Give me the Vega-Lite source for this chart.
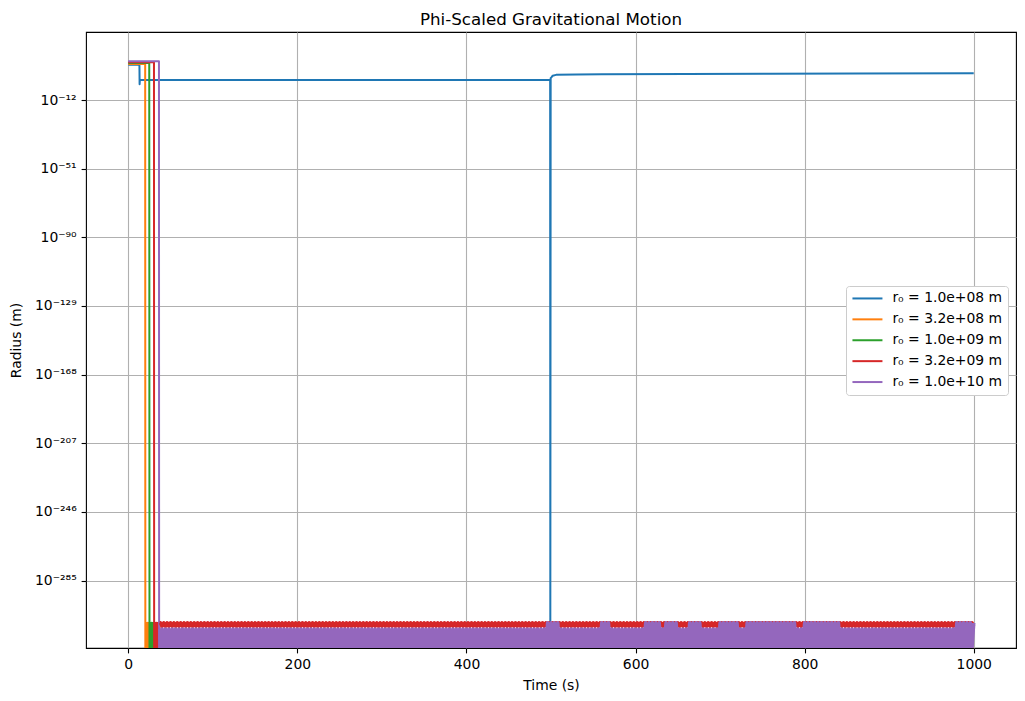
{
"$schema": "https://vega.github.io/schema/vega-lite/v6.json",
"width": 930, "height": 616,
"autosize": {"type": "none"},
"padding": {"left": 86, "top": 32, "right": 9, "bottom": 53},
"background": "white",
"title": {"text": "Phi-Scaled Gravitational Motion", "fontSize": 16.7, "fontWeight": "normal", "font": "DejaVu Sans", "color": "black", "anchor": "middle", "baseline": "alphabetic", "offset": 8.5, "dy": 18.5},
"data": {"values": [
{"t":0,"a":1e8,"b":3.2e8,"c":1e9,"d":3.2e9,"e":1e10},
{"t":13.2,"a":1e8},{"t":13.4,"a":1e-3},{"t":13.7,"a":0.25},
{"t":20,"b":3.2e8},{"t":20.2,"b":5e-324},{"t":21,"b":1e-309},{"t":22,"b":5e-324},{"t":23,"b":1e-309},{"t":24,"b":5e-324},{"t":25,"b":1e-309},{"t":26,"b":5e-324},{"t":1000,"b":5e-324},
{"t":24.8,"c":1e9},{"t":25.1,"c":5e-324},{"t":25.5,"c":1e-309},{"t":26.5,"c":5e-324},{"t":27.5,"c":1e-309},{"t":28.5,"c":5e-324},{"t":29.5,"c":1e-309},{"t":30.5,"c":5e-324},{"t":31.5,"c":1e-309},{"t":32.5,"c":5e-324},{"t":999,"c":5e-324},
{"t":30.4,"d":3.2e9},{"t":30.6,"d":5e-324},{"t":31.4,"d":1e-309},{"t":32.4,"d":5e-324},{"t":33.4,"d":1e-309},{"t":34.4,"d":5e-324},{"t":35.4,"d":1e-309},{"t":36.4,"d":5e-324},{"t":37.2,"d":1e-309},
{"t":36.3,"e":1e10},{"t":36.5,"e":5e-324},{"t":37.2,"e":3e-313},
{"t":499,"a":0.25},{"t":499.2,"a":1e-308},{"t":499.6,"a":3},{"t":500.4,"a":8},{"t":502,"a":63},{"t":506,"a":200},{"t":530,"a":280},{"t":560,"a":400},{"t":660,"a":600},{"t":760,"a":900},{"t":860,"a":1200},{"t":1000,"a":1450},
{"t":38,"d":1e-309,"e":5e-324},{"t":40,"d":1e-311,"e":3e-313},{"t":42,"d":1e-309,"e":5e-324},{"t":44,"d":1e-311,"e":3e-313},{"t":46,"d":1e-309,"e":5e-324},{"t":48,"d":1e-311,"e":3e-313},{"t":50,"d":1e-309,"e":5e-324},{"t":52,"d":1e-311,"e":3e-313},{"t":54,"d":1e-309,"e":5e-324},{"t":56,"d":1e-311,"e":3e-313},
{"t":58,"d":1e-309,"e":5e-324},{"t":60,"d":1e-311,"e":3e-313},{"t":62,"d":1e-309,"e":5e-324},{"t":64,"d":1e-311,"e":3e-313},{"t":66,"d":1e-309,"e":5e-324},{"t":68,"d":1e-311,"e":3e-313},{"t":70,"d":1e-309,"e":5e-324},{"t":72,"d":1e-311,"e":3e-313},{"t":74,"d":1e-309,"e":5e-324},{"t":76,"d":1e-311,"e":3e-313},
{"t":78,"d":1e-309,"e":5e-324},{"t":80,"d":1e-311,"e":3e-313},{"t":82,"d":1e-309,"e":5e-324},{"t":84,"d":1e-311,"e":3e-313},{"t":86,"d":1e-309,"e":5e-324},{"t":88,"d":1e-311,"e":3e-313},{"t":90,"d":1e-309,"e":5e-324},{"t":92,"d":1e-311,"e":3e-313},{"t":94,"d":1e-309,"e":5e-324},{"t":96,"d":1e-311,"e":3e-313},
{"t":98,"d":1e-309,"e":5e-324},{"t":100,"d":1e-311,"e":3e-313},{"t":102,"d":1e-309,"e":5e-324},{"t":104,"d":1e-311,"e":3e-313},{"t":106,"d":1e-309,"e":5e-324},{"t":108,"d":1e-311,"e":3e-313},{"t":110,"d":1e-309,"e":5e-324},{"t":112,"d":1e-311,"e":3e-313},{"t":114,"d":1e-309,"e":5e-324},{"t":116,"d":1e-311,"e":3e-313},
{"t":118,"d":1e-309,"e":5e-324},{"t":120,"d":1e-311,"e":3e-313},{"t":122,"d":1e-309,"e":5e-324},{"t":124,"d":1e-311,"e":3e-313},{"t":126,"d":1e-309,"e":5e-324},{"t":128,"d":1e-311,"e":3e-313},{"t":130,"d":1e-309,"e":5e-324},{"t":132,"d":1e-311,"e":3e-313},{"t":134,"d":1e-309,"e":5e-324},{"t":136,"d":1e-311,"e":3e-313},
{"t":138,"d":1e-309,"e":5e-324},{"t":140,"d":1e-311,"e":3e-313},{"t":142,"d":1e-309,"e":5e-324},{"t":144,"d":1e-311,"e":3e-313},{"t":146,"d":1e-309,"e":5e-324},{"t":148,"d":1e-311,"e":3e-313},{"t":150,"d":1e-309,"e":5e-324},{"t":152,"d":1e-311,"e":3e-313},{"t":154,"d":1e-309,"e":5e-324},{"t":156,"d":1e-311,"e":3e-313},
{"t":158,"d":1e-309,"e":5e-324},{"t":160,"d":1e-311,"e":3e-313},{"t":162,"d":1e-309,"e":5e-324},{"t":164,"d":1e-311,"e":3e-313},{"t":166,"d":1e-309,"e":5e-324},{"t":168,"d":1e-311,"e":3e-313},{"t":170,"d":1e-309,"e":5e-324},{"t":172,"d":1e-311,"e":3e-313},{"t":174,"d":1e-309,"e":5e-324},{"t":176,"d":1e-311,"e":3e-313},
{"t":178,"d":1e-309,"e":5e-324},{"t":180,"d":1e-311,"e":3e-313},{"t":182,"d":1e-309,"e":5e-324},{"t":184,"d":1e-311,"e":3e-313},{"t":186,"d":1e-309,"e":5e-324},{"t":188,"d":1e-311,"e":3e-313},{"t":190,"d":1e-309,"e":5e-324},{"t":192,"d":1e-311,"e":3e-313},{"t":194,"d":1e-309,"e":5e-324},{"t":196,"d":1e-311,"e":3e-313},
{"t":198,"d":1e-309,"e":5e-324},{"t":200,"d":1e-311,"e":3e-313},{"t":202,"d":1e-309,"e":5e-324},{"t":204,"d":1e-311,"e":3e-313},{"t":206,"d":1e-309,"e":5e-324},{"t":208,"d":1e-311,"e":3e-313},{"t":210,"d":1e-309,"e":5e-324},{"t":212,"d":1e-311,"e":3e-313},{"t":214,"d":1e-309,"e":5e-324},{"t":216,"d":1e-311,"e":3e-313},
{"t":218,"d":1e-309,"e":5e-324},{"t":220,"d":1e-311,"e":3e-313},{"t":222,"d":1e-309,"e":5e-324},{"t":224,"d":1e-311,"e":3e-313},{"t":226,"d":1e-309,"e":5e-324},{"t":228,"d":1e-311,"e":3e-313},{"t":230,"d":1e-309,"e":5e-324},{"t":232,"d":1e-311,"e":3e-313},{"t":234,"d":1e-309,"e":5e-324},{"t":236,"d":1e-311,"e":3e-313},
{"t":238,"d":1e-309,"e":5e-324},{"t":240,"d":1e-311,"e":3e-313},{"t":242,"d":1e-309,"e":5e-324},{"t":244,"d":1e-311,"e":3e-313},{"t":246,"d":1e-309,"e":5e-324},{"t":248,"d":1e-311,"e":3e-313},{"t":250,"d":1e-309,"e":5e-324},{"t":252,"d":1e-311,"e":3e-313},{"t":254,"d":1e-309,"e":5e-324},{"t":256,"d":1e-311,"e":3e-313},
{"t":258,"d":1e-309,"e":5e-324},{"t":260,"d":1e-311,"e":3e-313},{"t":262,"d":1e-309,"e":5e-324},{"t":264,"d":1e-311,"e":3e-313},{"t":266,"d":1e-309,"e":5e-324},{"t":268,"d":1e-311,"e":3e-313},{"t":270,"d":1e-309,"e":5e-324},{"t":272,"d":1e-311,"e":3e-313},{"t":274,"d":1e-309,"e":5e-324},{"t":276,"d":1e-311,"e":3e-313},
{"t":278,"d":1e-309,"e":5e-324},{"t":280,"d":1e-311,"e":3e-313},{"t":282,"d":1e-309,"e":5e-324},{"t":284,"d":1e-311,"e":3e-313},{"t":286,"d":1e-309,"e":5e-324},{"t":288,"d":1e-311,"e":3e-313},{"t":290,"d":1e-309,"e":5e-324},{"t":292,"d":1e-311,"e":3e-313},{"t":294,"d":1e-309,"e":5e-324},{"t":296,"d":1e-311,"e":3e-313},
{"t":298,"d":1e-309,"e":5e-324},{"t":300,"d":1e-311,"e":3e-313},{"t":302,"d":1e-309,"e":5e-324},{"t":304,"d":1e-311,"e":3e-313},{"t":306,"d":1e-309,"e":5e-324},{"t":308,"d":1e-311,"e":3e-313},{"t":310,"d":1e-309,"e":5e-324},{"t":312,"d":1e-311,"e":3e-313},{"t":314,"d":1e-309,"e":5e-324},{"t":316,"d":1e-311,"e":3e-313},
{"t":318,"d":1e-309,"e":5e-324},{"t":320,"d":1e-311,"e":3e-313},{"t":322,"d":1e-309,"e":5e-324},{"t":324,"d":1e-311,"e":3e-313},{"t":326,"d":1e-309,"e":5e-324},{"t":328,"d":1e-311,"e":3e-313},{"t":330,"d":1e-309,"e":5e-324},{"t":332,"d":1e-311,"e":3e-313},{"t":334,"d":1e-309,"e":5e-324},{"t":336,"d":1e-311,"e":3e-313},
{"t":338,"d":1e-309,"e":5e-324},{"t":340,"d":1e-311,"e":3e-313},{"t":342,"d":1e-309,"e":5e-324},{"t":344,"d":1e-311,"e":3e-313},{"t":346,"d":1e-309,"e":5e-324},{"t":348,"d":1e-311,"e":3e-313},{"t":350,"d":1e-309,"e":5e-324},{"t":352,"d":1e-311,"e":3e-313},{"t":354,"d":1e-309,"e":5e-324},{"t":356,"d":1e-311,"e":3e-313},
{"t":358,"d":1e-309,"e":5e-324},{"t":360,"d":1e-311,"e":3e-313},{"t":362,"d":1e-309,"e":5e-324},{"t":364,"d":1e-311,"e":3e-313},{"t":366,"d":1e-309,"e":5e-324},{"t":368,"d":1e-311,"e":3e-313},{"t":370,"d":1e-309,"e":5e-324},{"t":372,"d":1e-311,"e":3e-313},{"t":374,"d":1e-309,"e":5e-324},{"t":376,"d":1e-311,"e":3e-313},
{"t":378,"d":1e-309,"e":5e-324},{"t":380,"d":1e-311,"e":3e-313},{"t":382,"d":1e-309,"e":5e-324},{"t":384,"d":1e-311,"e":3e-313},{"t":386,"d":1e-309,"e":5e-324},{"t":388,"d":1e-311,"e":3e-313},{"t":390,"d":1e-309,"e":5e-324},{"t":392,"d":1e-311,"e":3e-313},{"t":394,"d":1e-309,"e":5e-324},{"t":396,"d":1e-311,"e":3e-313},
{"t":398,"d":1e-309,"e":5e-324},{"t":400,"d":1e-311,"e":3e-313},{"t":402,"d":1e-309,"e":5e-324},{"t":404,"d":1e-311,"e":3e-313},{"t":406,"d":1e-309,"e":5e-324},{"t":408,"d":1e-311,"e":3e-313},{"t":410,"d":1e-309,"e":5e-324},{"t":412,"d":1e-311,"e":3e-313},{"t":414,"d":1e-309,"e":5e-324},{"t":416,"d":1e-311,"e":3e-313},
{"t":418,"d":1e-309,"e":5e-324},{"t":420,"d":1e-311,"e":3e-313},{"t":422,"d":1e-309,"e":5e-324},{"t":424,"d":1e-311,"e":3e-313},{"t":426,"d":1e-309,"e":5e-324},{"t":428,"d":1e-311,"e":3e-313},{"t":430,"d":1e-309,"e":5e-324},{"t":432,"d":1e-311,"e":3e-313},{"t":434,"d":1e-309,"e":5e-324},{"t":436,"d":1e-311,"e":3e-313},
{"t":438,"d":1e-309,"e":5e-324},{"t":440,"d":1e-311,"e":3e-313},{"t":442,"d":1e-309,"e":5e-324},{"t":444,"d":1e-311,"e":3e-313},{"t":446,"d":1e-309,"e":5e-324},{"t":448,"d":1e-311,"e":3e-313},{"t":450,"d":1e-309,"e":5e-324},{"t":452,"d":1e-311,"e":3e-313},{"t":454,"d":1e-309,"e":5e-324},{"t":456,"d":1e-311,"e":3e-313},
{"t":458,"d":1e-309,"e":5e-324},{"t":460,"d":1e-311,"e":3e-313},{"t":462,"d":1e-309,"e":5e-324},{"t":464,"d":1e-311,"e":3e-313},{"t":466,"d":1e-309,"e":5e-324},{"t":468,"d":1e-311,"e":3e-313},{"t":470,"d":1e-309,"e":5e-324},{"t":472,"d":1e-311,"e":3e-313},{"t":474,"d":1e-309,"e":5e-324},{"t":476,"d":1e-311,"e":3e-313},
{"t":478,"d":1e-309,"e":5e-324},{"t":480,"d":1e-311,"e":3e-313},{"t":482,"d":1e-309,"e":5e-324},{"t":484,"d":1e-311,"e":3e-313},{"t":486,"d":1e-309,"e":5e-324},{"t":488,"d":1e-311,"e":3e-313},{"t":490,"d":1e-309,"e":5e-324},{"t":492,"d":1e-311,"e":3e-313},{"t":494,"d":1e-309,"e":5e-324},{"t":496,"d":1e-311,"e":1e-309},
{"t":498,"d":1e-309,"e":5e-324},{"t":500,"d":1e-311,"e":1e-309},{"t":502,"d":1e-309,"e":5e-324},{"t":504,"d":1e-311,"e":1e-309},{"t":506,"d":1e-309,"e":5e-324},{"t":508,"d":1e-311,"e":1e-309},{"t":510,"d":1e-309,"e":5e-324},{"t":512,"d":1e-311,"e":3e-313},{"t":514,"d":1e-309,"e":5e-324},{"t":516,"d":1e-311,"e":3e-313},
{"t":518,"d":1e-309,"e":5e-324},{"t":520,"d":1e-311,"e":3e-313},{"t":522,"d":1e-309,"e":5e-324},{"t":524,"d":1e-311,"e":3e-313},{"t":526,"d":1e-309,"e":5e-324},{"t":528,"d":1e-311,"e":3e-313},{"t":530,"d":1e-309,"e":5e-324},{"t":532,"d":1e-311,"e":3e-313},{"t":534,"d":1e-309,"e":5e-324},{"t":536,"d":1e-311,"e":3e-313},
{"t":538,"d":1e-309,"e":5e-324},{"t":540,"d":1e-311,"e":3e-313},{"t":542,"d":1e-309,"e":5e-324},{"t":544,"d":1e-311,"e":3e-313},{"t":546,"d":1e-309,"e":5e-324},{"t":548,"d":1e-311,"e":3e-313},{"t":550,"d":1e-309,"e":5e-324},{"t":552,"d":1e-311,"e":3e-313},{"t":554,"d":1e-309,"e":5e-324},{"t":556,"d":1e-311,"e":3e-313},
{"t":558,"d":1e-309,"e":5e-324},{"t":560,"d":1e-311,"e":1e-309},{"t":562,"d":1e-309,"e":5e-324},{"t":564,"d":1e-311,"e":1e-309},{"t":566,"d":1e-309,"e":5e-324},{"t":568,"d":1e-311,"e":1e-309},{"t":570,"d":1e-309,"e":5e-324},{"t":572,"d":1e-311,"e":3e-313},{"t":574,"d":1e-309,"e":5e-324},{"t":576,"d":1e-311,"e":3e-313},
{"t":578,"d":1e-309,"e":5e-324},{"t":580,"d":1e-311,"e":3e-313},{"t":582,"d":1e-309,"e":5e-324},{"t":584,"d":1e-311,"e":3e-313},{"t":586,"d":1e-309,"e":5e-324},{"t":588,"d":1e-311,"e":3e-313},{"t":590,"d":1e-309,"e":5e-324},{"t":592,"d":1e-311,"e":3e-313},{"t":594,"d":1e-309,"e":5e-324},{"t":596,"d":1e-311,"e":3e-313},
{"t":598,"d":1e-309,"e":5e-324},{"t":600,"d":1e-311,"e":3e-313},{"t":602,"d":1e-309,"e":5e-324},{"t":604,"d":1e-311,"e":3e-313},{"t":606,"d":1e-309,"e":5e-324},{"t":608,"d":1e-311,"e":3e-313},{"t":610,"d":1e-309,"e":5e-324},{"t":612,"d":1e-311,"e":1e-309},{"t":614,"d":1e-309,"e":5e-324},{"t":616,"d":1e-311,"e":1e-309},
{"t":618,"d":1e-309,"e":5e-324},{"t":620,"d":1e-311,"e":1e-309},{"t":622,"d":1e-309,"e":5e-324},{"t":624,"d":1e-311,"e":1e-309},{"t":626,"d":1e-309,"e":5e-324},{"t":628,"d":1e-311,"e":1e-309},{"t":630,"d":1e-309,"e":5e-324},{"t":632,"d":1e-311,"e":3e-313},{"t":634,"d":1e-309,"e":5e-324},{"t":636,"d":1e-311,"e":1e-309},
{"t":638,"d":1e-309,"e":5e-324},{"t":640,"d":1e-311,"e":1e-309},{"t":642,"d":1e-309,"e":5e-324},{"t":644,"d":1e-311,"e":1e-309},{"t":646,"d":1e-309,"e":5e-324},{"t":648,"d":1e-311,"e":1e-309},{"t":650,"d":1e-309,"e":5e-324},{"t":652,"d":1e-311,"e":3e-313},{"t":654,"d":1e-309,"e":5e-324},{"t":656,"d":1e-311,"e":3e-313},
{"t":658,"d":1e-309,"e":5e-324},{"t":660,"d":1e-311,"e":3e-313},{"t":662,"d":1e-309,"e":5e-324},{"t":664,"d":1e-311,"e":1e-309},{"t":666,"d":1e-309,"e":5e-324},{"t":668,"d":1e-311,"e":1e-309},{"t":670,"d":1e-309,"e":5e-324},{"t":672,"d":1e-311,"e":1e-309},{"t":674,"d":1e-309,"e":5e-324},{"t":676,"d":1e-311,"e":1e-309},
{"t":678,"d":1e-309,"e":5e-324},{"t":680,"d":1e-311,"e":3e-313},{"t":682,"d":1e-309,"e":5e-324},{"t":684,"d":1e-311,"e":3e-313},{"t":686,"d":1e-309,"e":5e-324},{"t":688,"d":1e-311,"e":3e-313},{"t":690,"d":1e-309,"e":5e-324},{"t":692,"d":1e-311,"e":3e-313},{"t":694,"d":1e-309,"e":5e-324},{"t":696,"d":1e-311,"e":3e-313},
{"t":698,"d":1e-309,"e":5e-324},{"t":700,"d":1e-311,"e":1e-309},{"t":702,"d":1e-309,"e":5e-324},{"t":704,"d":1e-311,"e":1e-309},{"t":706,"d":1e-309,"e":5e-324},{"t":708,"d":1e-311,"e":1e-309},{"t":710,"d":1e-309,"e":5e-324},{"t":712,"d":1e-311,"e":1e-309},{"t":714,"d":1e-309,"e":5e-324},{"t":716,"d":1e-311,"e":1e-309},
{"t":718,"d":1e-309,"e":5e-324},{"t":720,"d":1e-311,"e":1e-309},{"t":722,"d":1e-309,"e":5e-324},{"t":724,"d":1e-311,"e":3e-313},{"t":726,"d":1e-309,"e":5e-324},{"t":728,"d":1e-311,"e":3e-313},{"t":730,"d":1e-309,"e":5e-324},{"t":732,"d":1e-311,"e":1e-309},{"t":734,"d":1e-309,"e":5e-324},{"t":736,"d":1e-311,"e":1e-309},
{"t":738,"d":1e-309,"e":5e-324},{"t":740,"d":1e-311,"e":1e-309},{"t":742,"d":1e-309,"e":5e-324},{"t":744,"d":1e-311,"e":1e-309},{"t":746,"d":1e-309,"e":5e-324},{"t":748,"d":1e-311,"e":1e-309},{"t":750,"d":1e-309,"e":5e-324},{"t":752,"d":1e-311,"e":1e-309},{"t":754,"d":1e-309,"e":5e-324},{"t":756,"d":1e-311,"e":1e-309},
{"t":758,"d":1e-309,"e":5e-324},{"t":760,"d":1e-311,"e":1e-309},{"t":762,"d":1e-309,"e":5e-324},{"t":764,"d":1e-311,"e":1e-309},{"t":766,"d":1e-309,"e":5e-324},{"t":768,"d":1e-311,"e":1e-309},{"t":770,"d":1e-309,"e":5e-324},{"t":772,"d":1e-311,"e":1e-309},{"t":774,"d":1e-309,"e":5e-324},{"t":776,"d":1e-311,"e":1e-309},
{"t":778,"d":1e-309,"e":5e-324},{"t":780,"d":1e-311,"e":1e-309},{"t":782,"d":1e-309,"e":5e-324},{"t":784,"d":1e-311,"e":1e-309},{"t":786,"d":1e-309,"e":5e-324},{"t":788,"d":1e-311,"e":1e-309},{"t":790,"d":1e-309,"e":5e-324},{"t":792,"d":1e-311,"e":3e-313},{"t":794,"d":1e-309,"e":5e-324},{"t":796,"d":1e-311,"e":3e-313},
{"t":798,"d":1e-309,"e":5e-324},{"t":800,"d":1e-311,"e":1e-309},{"t":802,"d":1e-309,"e":5e-324},{"t":804,"d":1e-311,"e":1e-309},{"t":806,"d":1e-309,"e":5e-324},{"t":808,"d":1e-311,"e":1e-309},{"t":810,"d":1e-309,"e":5e-324},{"t":812,"d":1e-311,"e":1e-309},{"t":814,"d":1e-309,"e":5e-324},{"t":816,"d":1e-311,"e":1e-309},
{"t":818,"d":1e-309,"e":5e-324},{"t":820,"d":1e-311,"e":1e-309},{"t":822,"d":1e-309,"e":5e-324},{"t":824,"d":1e-311,"e":1e-309},{"t":826,"d":1e-309,"e":5e-324},{"t":828,"d":1e-311,"e":1e-309},{"t":830,"d":1e-309,"e":5e-324},{"t":832,"d":1e-311,"e":1e-309},{"t":834,"d":1e-309,"e":5e-324},{"t":836,"d":1e-311,"e":1e-309},
{"t":838,"d":1e-309,"e":5e-324},{"t":840,"d":1e-311,"e":1e-309},{"t":842,"d":1e-309,"e":5e-324},{"t":844,"d":1e-311,"e":3e-313},{"t":846,"d":1e-309,"e":5e-324},{"t":848,"d":1e-311,"e":3e-313},{"t":850,"d":1e-309,"e":5e-324},{"t":852,"d":1e-311,"e":3e-313},{"t":854,"d":1e-309,"e":5e-324},{"t":856,"d":1e-311,"e":3e-313},
{"t":858,"d":1e-309,"e":5e-324},{"t":860,"d":1e-311,"e":3e-313},{"t":862,"d":1e-309,"e":5e-324},{"t":864,"d":1e-311,"e":3e-313},{"t":866,"d":1e-309,"e":5e-324},{"t":868,"d":1e-311,"e":3e-313},{"t":870,"d":1e-309,"e":5e-324},{"t":872,"d":1e-311,"e":3e-313},{"t":874,"d":1e-309,"e":5e-324},{"t":876,"d":1e-311,"e":3e-313},
{"t":878,"d":1e-309,"e":5e-324},{"t":880,"d":1e-311,"e":3e-313},{"t":882,"d":1e-309,"e":5e-324},{"t":884,"d":1e-311,"e":3e-313},{"t":886,"d":1e-309,"e":5e-324},{"t":888,"d":1e-311,"e":3e-313},{"t":890,"d":1e-309,"e":5e-324},{"t":892,"d":1e-311,"e":3e-313},{"t":894,"d":1e-309,"e":5e-324},{"t":896,"d":1e-311,"e":3e-313},
{"t":898,"d":1e-309,"e":5e-324},{"t":900,"d":1e-311,"e":3e-313},{"t":902,"d":1e-309,"e":5e-324},{"t":904,"d":1e-311,"e":3e-313},{"t":906,"d":1e-309,"e":5e-324},{"t":908,"d":1e-311,"e":3e-313},{"t":910,"d":1e-309,"e":5e-324},{"t":912,"d":1e-311,"e":3e-313},{"t":914,"d":1e-309,"e":5e-324},{"t":916,"d":1e-311,"e":3e-313},
{"t":918,"d":1e-309,"e":5e-324},{"t":920,"d":1e-311,"e":3e-313},{"t":922,"d":1e-309,"e":5e-324},{"t":924,"d":1e-311,"e":3e-313},{"t":926,"d":1e-309,"e":5e-324},{"t":928,"d":1e-311,"e":3e-313},{"t":930,"d":1e-309,"e":5e-324},{"t":932,"d":1e-311,"e":3e-313},{"t":934,"d":1e-309,"e":5e-324},{"t":936,"d":1e-311,"e":3e-313},
{"t":938,"d":1e-309,"e":5e-324},{"t":940,"d":1e-311,"e":3e-313},{"t":942,"d":1e-309,"e":5e-324},{"t":944,"d":1e-311,"e":3e-313},{"t":946,"d":1e-309,"e":5e-324},{"t":948,"d":1e-311,"e":3e-313},{"t":950,"d":1e-309,"e":5e-324},{"t":952,"d":1e-311,"e":3e-313},{"t":954,"d":1e-309,"e":5e-324},{"t":956,"d":1e-311,"e":3e-313},
{"t":958,"d":1e-309,"e":5e-324},{"t":960,"d":1e-311,"e":3e-313},{"t":962,"d":1e-309,"e":5e-324},{"t":964,"d":1e-311,"e":3e-313},{"t":966,"d":1e-309,"e":5e-324},{"t":968,"d":1e-311,"e":3e-313},{"t":970,"d":1e-309,"e":5e-324},{"t":972,"d":1e-311,"e":3e-313},{"t":974,"d":1e-309,"e":5e-324},{"t":976,"d":1e-311,"e":3e-313},
{"t":978,"d":1e-309,"e":5e-324},{"t":980,"d":1e-311,"e":1e-309},{"t":982,"d":1e-309,"e":5e-324},{"t":984,"d":1e-311,"e":1e-309},{"t":986,"d":1e-309,"e":5e-324},{"t":988,"d":1e-311,"e":1e-309},{"t":990,"d":1e-309,"e":5e-324},{"t":992,"d":1e-311,"e":1e-309},{"t":994,"d":1e-309,"e":5e-324},{"t":996,"d":1e-311,"e":1e-309},
{"t":998,"d":1e-309,"e":5e-324},{"t":1000,"d":1e-311,"e":1e-309}
]},
"transform": [
  {"fold": ["a", "b", "c", "d", "e"], "as": ["s", "r"]},
  {"filter": "isValid(datum.r)"}
],
"encoding": {
  "x": {"field": "t", "type": "quantitative",
        "scale": {"domain": [-50, 1050], "nice": false, "zero": false},
        "axis": {"values": [0, 200, 400, 600, 800, 1000], "format": "d", "title": "Time (s)", "grid": true, "titleX": 465, "titleY": 30, "titleBaseline": "top", "titleAnchor": "middle"}},
  "y": {"field": "r", "type": "quantitative",
        "scale": {"type": "log", "domain": [5e-324, 4.5e26], "nice": false},
        "axis": {"values": [1e-12, 1e-51, 1e-90, 1e-129, 1e-168, 1e-207, 1e-246, 1e-285], "title": "Radius (m)", "grid": true,
                 "labelExpr": "datum.value > 1e-20 ? '10⁻¹²' : datum.value > 1e-60 ? '10⁻⁵¹' : datum.value > 1e-100 ? '10⁻⁹⁰' : datum.value > 1e-140 ? '10⁻¹²⁹' : datum.value > 1e-180 ? '10⁻¹⁶⁸' : datum.value > 1e-220 ? '10⁻²⁰⁷' : datum.value > 1e-260 ? '10⁻²⁴⁶' : '10⁻²⁸⁵'",
                 "titleX": -70, "titleY": 308, "titleAngle": -90, "titleBaseline": "middle", "titleAlign": "center"}},
  "color": {"field": "s", "type": "nominal",
            "scale": {"domain": ["a", "b", "c", "d", "e"], "range": ["#1f77b4", "#ff7f0e", "#2ca02c", "#d62728", "#9467bd"]},
            "legend": {"title": null, "orient": "none", "legendX": 760, "legendY": 254,
                       "symbolType": "M-3,0H3", "symbolSize": 100, "symbolStrokeWidth": 2, "symbolOffset": 9,
                       "labelOffset": 18, "labelFontSize": 13.9, "labelFont": "DejaVu Sans", "labelColor": "black",
                       "padding": 5.5, "rowPadding": 5.9, "strokeColor": "#cccccc", "fillColor": "white", "cornerRadius": 3,
                       "labelExpr": "datum.label == 'a' ? 'r₀ = 1.0e+08 m' : datum.label == 'b' ? 'r₀ = 3.2e+08 m' : datum.label == 'c' ? 'r₀ = 1.0e+09 m' : datum.label == 'd' ? 'r₀ = 3.2e+09 m' : 'r₀ = 1.0e+10 m'"}}
},
"layer": [
  {"mark": {"type": "line", "strokeWidth": 2, "strokeJoin": "round", "clip": true}},
  {"transform": [{"filter": "datum.r < 1e-300 && datum.t > 37"}],
   "mark": {"type": "line", "strokeWidth": 3.5, "strokeJoin": "round", "clip": true}}
],
"config": {
  "font": "DejaVu Sans",
  "view": {"stroke": "black", "strokeWidth": 1.1},
  "axis": {"domain": false, "tickColor": "black", "tickWidth": 1.1, "tickSize": 4.9, "labelPadding": 4.9,
           "labelFontSize": 13.9, "labelFont": "DejaVu Sans", "labelColor": "black",
           "titleFontSize": 13.9, "titleFont": "DejaVu Sans", "titleColor": "black", "titleFontWeight": "normal",
           "gridColor": "#b0b0b0", "gridWidth": 1.1}
}
}
